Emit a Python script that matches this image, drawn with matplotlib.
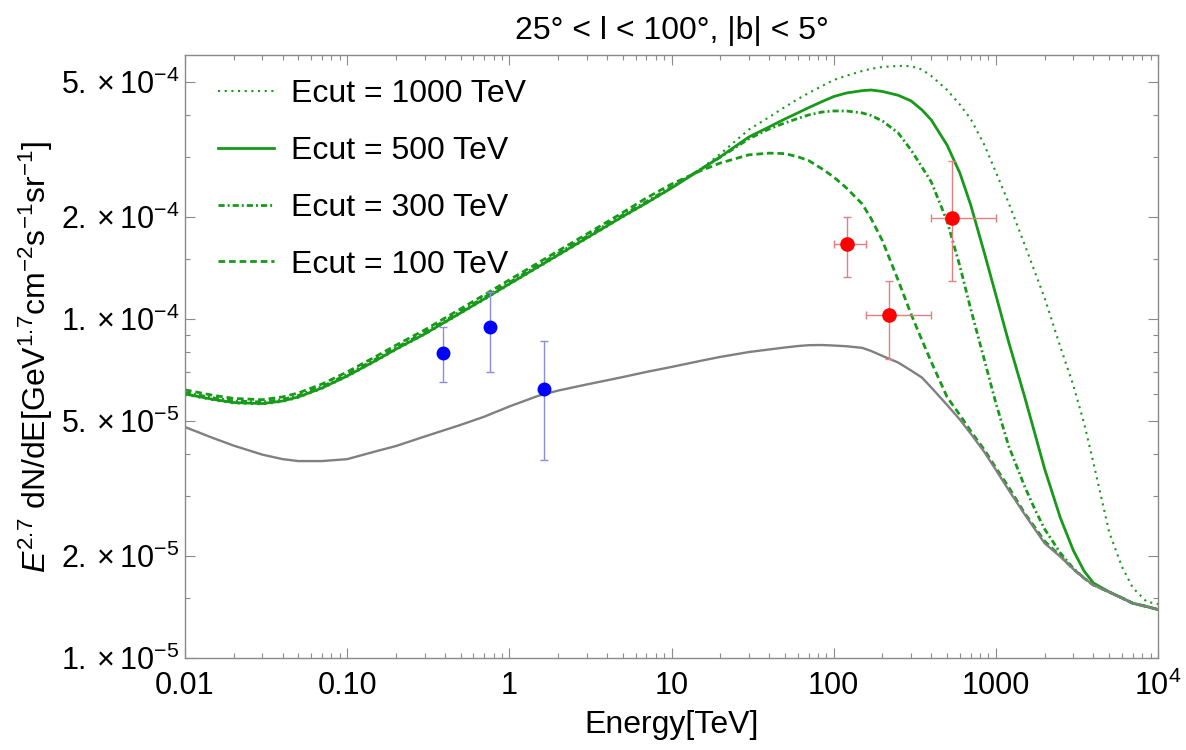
import matplotlib
matplotlib.use("Agg")
import matplotlib.pyplot as plt
from matplotlib.ticker import FixedLocator, FixedFormatter, NullFormatter

plt.rcParams['font.family'] = ['Liberation Sans', 'DejaVu Sans']
plt.rcParams['mathtext.fontset'] = 'custom'
plt.rcParams['mathtext.rm'] = 'Liberation Sans'
plt.rcParams['mathtext.it'] = 'Liberation Sans:italic'
plt.rcParams['mathtext.bf'] = 'Liberation Sans:bold'

# Photon energy grid [TeV]
energy = [0.01, 0.015, 0.02, 0.03, 0.04, 0.05, 0.07,
          0.1, 0.15, 0.2, 0.3, 0.5, 0.7,
          1, 1.5, 2, 3, 5, 7,
          10, 15, 20, 30, 40, 50, 60, 70, 85,
          100, 120, 150, 170, 200, 250, 300, 350, 400, 500, 600, 700, 850,
          1000, 1200, 1500, 1750, 2000, 2500, 3000, 3500, 4000, 5000, 6000, 7000, 8500,
          10000]

# Background diffuse emission
background = [4.80e-5, 4.45e-5, 4.23e-5, 3.98e-5, 3.86e-5, 3.81e-5, 3.81e-5,
              3.86e-5, 4.07e-5, 4.22e-5, 4.50e-5, 4.87e-5, 5.15e-5,
              5.52e-5, 5.93e-5, 6.15e-5, 6.41e-5, 6.74e-5, 6.98e-5,
              7.22e-5, 7.52e-5, 7.73e-5, 7.99e-5, 8.13e-5, 8.24e-5, 8.32e-5, 8.37e-5, 8.38e-5,
              8.35e-5, 8.31e-5, 8.22e-5, 8.05e-5, 7.78e-5, 7.44e-5, 7.05e-5, 6.72e-5, 6.28e-5,
              5.58e-5, 5.05e-5, 4.59e-5, 4.05e-5,
              3.59e-5, 3.13e-5, 2.66e-5, 2.39e-5, 2.18e-5, 1.99e-5, 1.83e-5, 1.72e-5,
              1.642e-5, 1.566e-5, 1.503e-5, 1.45e-5, 1.419e-5,
              1.39e-5]

# Total emission for different proton cutoff energies
ecut_1000 = [5.98e-5, 5.76e-5, 5.64e-5, 5.60e-5, 5.70e-5, 5.86e-5, 6.23e-5,
             6.76e-5, 7.50e-5, 8.11e-5, 8.99e-5, 1.037e-4, 1.140e-4,
             1.263e-4, 1.417e-4, 1.537e-4, 1.725e-4, 1.996e-4, 2.19e-4,
             2.43e-4, 2.76e-4, 3.07e-4, 3.62e-4, 3.94e-4, 4.22e-4, 4.45e-4, 4.64e-4, 4.87e-4,
             5.07e-4, 5.22e-4, 5.39e-4, 5.47e-4, 5.54e-4, 5.58e-4, 5.57e-4, 5.445e-4, 5.21e-4,
             4.74e-4, 4.29e-4, 3.89e-4, 3.26e-4,
             2.714e-4, 2.20e-4, 1.665e-4, 1.367e-4, 1.153e-4, 8.27e-5, 6.39e-5, 4.93e-5,
             3.76e-5, 2.35e-5, 1.856e-5, 1.61e-5, 1.466e-5,
             1.443e-5]

ecut_500 = [6.01e-5, 5.79e-5, 5.67e-5, 5.63e-5, 5.73e-5, 5.89e-5, 6.26e-5,
            6.79e-5, 7.54e-5, 8.15e-5, 9.03e-5, 1.042e-4, 1.146e-4,
            1.269e-4, 1.424e-4, 1.545e-4, 1.734e-4, 2.006e-4, 2.199e-4,
            2.434e-4, 2.751e-4, 3.01e-4, 3.443e-4, 3.686e-4, 3.89e-4, 4.053e-4, 4.20e-4, 4.381e-4,
            4.53e-4, 4.642e-4, 4.716e-4, 4.737e-4, 4.69e-4, 4.57e-4, 4.40e-4, 4.14e-4, 3.864e-4,
            3.261e-4, 2.696e-4, 2.17e-4, 1.565e-4,
            1.178e-4, 8.55e-5, 5.93e-5, 4.55e-5, 3.61e-5, 2.59e-5, 2.08e-5, 1.805e-5,
            1.664e-5, 1.566e-5, 1.503e-5, 1.45e-5, 1.419e-5,
            1.39e-5]

ecut_300 = [6.07e-5, 5.85e-5, 5.73e-5, 5.69e-5, 5.79e-5, 5.95e-5, 6.32e-5,
            6.86e-5, 7.62e-5, 8.23e-5, 9.12e-5, 1.053e-4, 1.158e-4,
            1.282e-4, 1.439e-4, 1.561e-4, 1.752e-4, 2.026e-4, 2.22e-4,
            2.45e-4, 2.76e-4, 3.00e-4, 3.40e-4, 3.636e-4, 3.787e-4, 3.903e-4, 3.998e-4, 4.08e-4,
            4.108e-4, 4.108e-4, 4.053e-4, 3.984e-4, 3.838e-4, 3.538e-4, 3.152e-4, 2.808e-4, 2.536e-4,
            1.946e-4, 1.433e-4, 1.070e-4, 7.57e-5,
            5.65e-5, 4.22e-5, 3.22e-5, 2.73e-5, 2.40e-5, 2.04e-5, 1.84e-5, 1.72e-5,
            1.642e-5, 1.566e-5, 1.503e-5, 1.45e-5, 1.419e-5,
            1.39e-5]

ecut_100 = [6.18e-5, 5.95e-5, 5.83e-5, 5.78e-5, 5.89e-5, 6.05e-5, 6.43e-5,
            6.98e-5, 7.75e-5, 8.37e-5, 9.28e-5, 1.071e-4, 1.178e-4,
            1.304e-4, 1.463e-4, 1.588e-4, 1.78e-4, 2.06e-4, 2.275e-4,
            2.50e-4, 2.733e-4, 2.885e-4, 3.05e-4, 3.085e-4, 3.075e-4, 3.01e-4, 2.935e-4, 2.77e-4,
            2.624e-4, 2.434e-4, 2.184e-4, 1.98e-4, 1.70e-4, 1.30e-4, 1.034e-4, 8.67e-5, 7.47e-5,
            5.89e-5, 5.21e-5, 4.67e-5, 4.11e-5,
            3.64e-5, 3.19e-5, 2.68e-5, 2.42e-5, 2.21e-5, 2.00e-5, 1.83e-5, 1.72e-5,
            1.642e-5, 1.566e-5, 1.503e-5, 1.45e-5, 1.419e-5,
            1.39e-5]

# ARGO-YBJ measurements
argo_E = [0.391, 0.756, 1.64]
argo_F = [7.95e-5, 9.45e-5, 6.22e-5]
argo_F_lo = [6.51e-5, 6.99e-5, 3.83e-5]
argo_F_hi = [9.45e-5, 1.204e-4, 8.60e-5]

# Tibet AS-gamma measurements
tibet_E = [121, 220, 535]
tibet_E_lo = [100, 158, 398]
tibet_E_hi = [158, 398, 1000]
tibet_F = [1.665e-4, 1.03e-4, 1.986e-4]
tibet_F_lo = [1.33e-4, 7.62e-5, 1.294e-4]
tibet_F_hi = [2.00e-4, 1.292e-4, 2.93e-4]

x_major = [0.01, 0.1, 1, 10, 100, 1000, 10000]
x_labels = ['0.01', '0.10', '1', '10', '100', '1000', r'$10^4$']
y_major = [1e-5, 2e-5, 5e-5, 1e-4, 2e-4, 5e-4]
y_labels = [r'$1.\times10^{-5}$', r'$2.\times10^{-5}$', r'$5.\times10^{-5}$',
            r'$1.\times10^{-4}$', r'$2.\times10^{-4}$', r'$5.\times10^{-4}$']
y_minor = [1.5e-5, 3e-5, 4e-5, 6e-5, 7e-5, 8e-5, 9e-5, 1.5e-4, 3e-4, 4e-4]

green = '#17991a'
grey = '#808080'
frame = '#8a8a8a'

fig = plt.figure(figsize=(11.86, 7.5), dpi=100)
ax = fig.add_axes([185 / 1186, 92 / 750, 973 / 1186, 602.8 / 750])
ax.set_xscale('log')
ax.set_yscale('log')

l1000, = ax.plot(energy, ecut_1000, color=green, lw=1.5, label='Ecut = 1000 TeV')
l1000.set_dashes([1.0, 2.2])
l500, = ax.plot(energy, ecut_500, color=green, lw=2.0, label='Ecut = 500 TeV')
l300, = ax.plot(energy, ecut_300, color=green, lw=2.0, label='Ecut = 300 TeV')
l300.set_dashes([2.2, 1.1, 0.7, 1.1])
l100, = ax.plot(energy, ecut_100, color=green, lw=2.0, label='Ecut = 100 TeV')
l100.set_dashes([2.4, 1.4])
ax.plot(energy, background, color=grey, lw=1.7)

argo_err = [[f - lo for f, lo in zip(argo_F, argo_F_lo)],
            [hi - f for f, hi in zip(argo_F, argo_F_hi)]]
ax.errorbar(argo_E, argo_F, yerr=argo_err, fmt='o', color='#0000ff', ms=9,
            ecolor='#8c8ce0', elinewidth=1.0, capsize=3, capthick=1.0, zorder=5)

tibet_xerr = [[e - lo for e, lo in zip(tibet_E, tibet_E_lo)],
              [hi - e for e, hi in zip(tibet_E, tibet_E_hi)]]
tibet_yerr = [[f - lo for f, lo in zip(tibet_F, tibet_F_lo)],
              [hi - f for f, hi in zip(tibet_F, tibet_F_hi)]]
ax.errorbar(tibet_E, tibet_F, xerr=tibet_xerr, yerr=tibet_yerr, fmt='o',
            color='#ff0000', ms=9.5, ecolor='#e08080', elinewidth=1.0,
            capsize=3, capthick=1.0, zorder=5)

ax.set_xlim(0.01, 1e4)
ax.set_ylim(1e-5, 6e-4)

ax.xaxis.set_major_locator(FixedLocator(x_major))
ax.xaxis.set_major_formatter(FixedFormatter(x_labels))
x_minor = [m * d for d in x_major[:-1] for m in range(2, 10)]
ax.xaxis.set_minor_locator(FixedLocator(x_minor))
ax.xaxis.set_minor_formatter(NullFormatter())
ax.yaxis.set_major_locator(FixedLocator(y_major))
ax.yaxis.set_major_formatter(FixedFormatter(y_labels))
ax.yaxis.set_minor_locator(FixedLocator(y_minor))
ax.yaxis.set_minor_formatter(NullFormatter())

ax.tick_params(which='both', direction='in', top=True, right=True, color=frame,
               labelsize=22, width=0.8)
ax.tick_params(which='major', length=7)
ax.tick_params(which='minor', length=3.8)
ax.tick_params(axis='x', pad=9)
ax.tick_params(axis='y', pad=4)
for s in ax.spines.values():
    s.set_color(frame)
    s.set_linewidth(1.0)

ax.set_xlabel('Energy[TeV]', fontsize=23, labelpad=6)
ax.set_ylabel(r'$E^{2.7}$ dN/dE[GeV$^{1.7}$cm$^{-2}$s$^{-1}$sr$^{-1}$]',
              fontsize=23, labelpad=4)
ax.set_title('25° < l < 100°, |b| < 5°', fontsize=23, pad=12)

ax.legend(handles=[l1000, l500, l300, l100], loc='upper left',
          bbox_to_anchor=(0.009, 1.0), frameon=False, fontsize=23,
          handlelength=1.75, handletextpad=0.55, labelspacing=0.84,
          borderaxespad=0.25, borderpad=0.5)

fig.savefig('out.png', dpi=100)
